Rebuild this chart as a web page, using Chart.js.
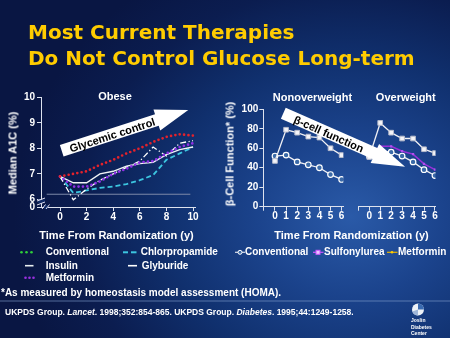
<!DOCTYPE html>
<html><head><meta charset="utf-8">
<script src="https://cdn.jsdelivr.net/npm/chart.js@4"></script>
<style>
html,body{margin:0;padding:0;}
body{width:450px;height:338px;overflow:hidden;position:relative;
 background: radial-gradient(ellipse 75% 85% at 78% 64%, #2a5aa8 0%, #1b438c 28%, #10306e 55%, #0b1d50 80%, #091643 100%);
 font-family:"Liberation Sans",Arial,sans-serif;color:#fff;}
canvas{position:absolute;left:0;top:0;}
.t{position:absolute;white-space:nowrap;font-weight:bold;line-height:1;color:#fff;}
.c{transform:translateX(-50%);}
.r{transform:translate(-50%,-50%) rotate(-90deg);}
svg{position:absolute;left:0;top:0;}
</style></head>
<body>
<canvas id="cA" width="450" height="338"></canvas>
<canvas id="cB" width="450" height="338"></canvas>
<canvas id="cC" width="450" height="338"></canvas>

<div class="t" style="left:28px;top:19.8px;font:bold 20px 'DejaVu Sans';color:#ffcc00;">Most Current Therapies</div>
<div class="t" style="left:28px;top:46.4px;font:bold 20px 'DejaVu Sans';color:#ffcc00;">Do Not Control Glucose Long-term</div>

<div class="t c" style="left:115px;top:91.2px;font-size:11px;">Obese</div>
<div class="t c" style="left:312.5px;top:91.8px;font-size:11px;">Nonoverweight</div>
<div class="t c" style="left:405.8px;top:91.8px;font-size:11px;">Overweight</div>
<div class="t r" style="left:13.3px;top:152.5px;font-size:11px;">Median A1C (%)</div>
<div class="t r" style="left:230px;top:154px;font-size:11px;">β-Cell Function* (%)</div>
<div class="t c" style="left:116.5px;top:229.5px;font-size:11px;">Time From Randomization (y)</div>
<div class="t c" style="left:351.5px;top:229.5px;font-size:11px;">Time From Randomization (y)</div>

<div class="t" style="left:45.7px;top:247.3px;font-size:10px;">Conventional</div>
<div class="t" style="left:140.7px;top:247.3px;font-size:10px;">Chlorpropamide</div>
<div class="t" style="left:45.7px;top:260.7px;font-size:10px;">Insulin</div>
<div class="t" style="left:141.7px;top:260.7px;font-size:10px;">Glyburide</div>
<div class="t" style="left:45.7px;top:272.7px;font-size:10px;">Metformin</div>
<div class="t" style="left:245px;top:247.3px;font-size:10px;">Conventional</div>
<div class="t" style="left:324px;top:247.3px;font-size:10px;">Sulfonylurea</div>
<div class="t" style="left:398px;top:247.3px;font-size:10px;">Metformin</div>

<div class="t" style="left:1px;top:288.3px;font-size:10px;">*As measured by homeostasis model assessment (HOMA).</div>
<div class="t" style="left:5px;top:307.5px;font-size:8.5px;">UKPDS Group. <i>Lancet</i>. 1998;352:854-865. UKPDS Group. <i>Diabetes</i>. 1995;44:1249-1258.</div>
<div class="t" style="left:411px;top:317px;font-size:5px;line-height:6.5px;">Joslin<br>Diabetes<br>Center</div>

<svg width="450" height="338" viewBox="0 0 450 338">
  <!-- axis breaks -->
  <rect x="38" y="199.5" width="7" height="3.5" fill="#0f2a66"/>
  <line x1="37" y1="201" x2="45" y2="198" stroke="#dde" stroke-width="1"/>
  <line x1="37" y1="205" x2="45" y2="202" stroke="#dde" stroke-width="1"/>
  <rect x="44" y="205" width="4" height="4" fill="#0f2a66"/>
  <line x1="42" y1="209" x2="45.5" y2="204.5" stroke="#dde" stroke-width="1"/>
  <line x1="46" y1="209" x2="49.5" y2="204.5" stroke="#dde" stroke-width="1"/>
  <!-- arrows -->
  <g transform="translate(61.7,150.8) rotate(-17.9)">
    <polygon points="0,-6 100,-6 100,-11 133,0 100,11 100,6 0,6" fill="#fff"/>
    <text x="53" y="0.5" text-anchor="middle" dominant-baseline="central" font-family="Liberation Sans" font-weight="bold" font-size="11" fill="#000">Glycemic control</text>
  </g>
  <g transform="translate(283.3,113.3) rotate(23.7)">
    <polygon points="0,-6 100,-6 100,-10.5 133,0 100,10.5 100,6 0,6" fill="#fff"/>
    <text x="50" y="0.5" text-anchor="middle" dominant-baseline="central" font-family="Liberation Sans" font-weight="bold" font-size="11" fill="#000">β-cell function</text>
  </g>
  <!-- legend swatches left -->
  <g fill="#2fcf3a"><circle cx="21.5" cy="252.3" r="1.3"/><circle cx="26.5" cy="252.3" r="1.3"/><circle cx="31.5" cy="252.3" r="1.3"/></g>
  <line x1="123" y1="252.3" x2="128" y2="252.3" stroke="#3cc6e0" stroke-width="2"/>
  <line x1="131" y1="252.3" x2="136.5" y2="252.3" stroke="#3cc6e0" stroke-width="2"/>
  <line x1="25" y1="265.7" x2="33.5" y2="265.7" stroke="#e8eef0" stroke-width="1.6"/>
  <line x1="128" y1="265.7" x2="137" y2="265.7" stroke="#ffffff" stroke-width="1.6"/>
  <g fill="#9a30e0"><circle cx="25.5" cy="277.7" r="1.3"/><circle cx="29.5" cy="277.7" r="1.3"/><circle cx="33.5" cy="277.7" r="1.3"/></g>
  <!-- legend swatches right -->
  <line x1="235" y1="252.3" x2="245" y2="252.3" stroke="#d8dde8" stroke-width="1.2"/>
  <circle cx="240" cy="252.3" r="2" fill="#3b6aa8" stroke="#fff" stroke-width="1"/>
  <line x1="313" y1="252.3" x2="323.5" y2="252.3" stroke="#cc55ff" stroke-width="1.2"/>
  <rect x="316" y="250.3" width="4" height="4" fill="#e8c8ff" stroke="#cc55ff" stroke-width="1"/>
  <line x1="387" y1="252.3" x2="397.5" y2="252.3" stroke="#e8b400" stroke-width="1.2"/>
  <circle cx="392" cy="252.3" r="1.3" fill="#ffcc00"/>
  <!-- separator -->
  <line x1="0" y1="301" x2="450" y2="301" stroke="#7f9ccc" stroke-width="0.8" opacity="0.8"/>
  <!-- logo -->
  <circle cx="418" cy="309.5" r="6" fill="#eef2f8"/>
  <path d="M418,303.5 A6,6 0 0,1 424,309.5 L418,309.5 Z" fill="#3a6ab0"/>
  <path d="M418,309.5 L418,315.5 A6,6 0 0,1 412.3,311.5 Z" fill="#9fb6d8"/>
</svg>

<script>
// ---------- Data: left panel (Obese, median A1C %) ----------
const years = [0, 1, 2, 3, 4, 5, 6, 7, 8, 9, 10];
const a1cConventional   = [6.9, 7.0, 7.1, 7.35, 7.55, 7.8, 8.0, 8.25, 8.45, 8.55, 8.5];
const a1cMetformin      = [6.9, 6.5, 6.5, 6.7, 7.0, 7.2, 7.45, 7.5, 7.8, 8.05, 8.2];
const a1cInsulin        = [6.9, 6.65, 6.65, 7.0, 7.1, 7.3, 7.4, 7.45, 7.75, 7.95, 8.05];
const a1cGlyburide      = [6.9, 5.98, 6.4, 6.75, 7.0, 7.25, 7.5, 8.05, 7.7, 8.2, 8.3];
const a1cChlorpropamide = [6.9, 6.25, 6.35, 6.45, 6.5, 6.6, 6.75, 6.95, 7.55, 7.8, 8.05];
const a1cRefYears = [-1, 9.8];
const a1cRefValue = [6.2, 6.2];
const a1cXTicks = [0, 2, 4, 6, 8, 10];
const a1cYTicks = [5.7, 6, 7, 8, 9, 10];
const a1cYTickLabels = ['0', '6', '7', '8', '9', '10'];

// ---------- Data: right panels (beta-cell function %) ----------
const betaYears = [0, 1, 2, 3, 4, 5, 6];
const betaNowConventional  = [52, 53, 46, 43, 40, 33, 28];
const betaNowSulfonylurea  = [47, 79, 76, 72, 71, 60, 53];
const betaOwSulfonylurea   = [51, 86, 76, 70, 70, 59, 55];
const betaOwMetformin      = [52, 62, 62, 57, 54, 44, 38];
const betaOwConventional   = [52, 57, 56, 52, 46, 38, 32];
const betaXTicks = [-1, 0, 1, 2, 3, 4, 5, 6];
const betaYTicks = [0, 20, 40, 60, 80, 100];

Chart.defaults.font.family = "'Liberation Sans', Arial, sans-serif";
Chart.defaults.font.weight = 'bold';
Chart.defaults.font.size = 10;
Chart.defaults.color = '#ffffff';

const pts = (xs, ys) => xs.map((x, i) => ({x: x, y: ys[i]}));
const axisCol = '#dde2ee';

function xScale(min, max, ticks, labelFn) {
  return {
    type: 'linear', min: min, max: max,
    afterBuildTicks: s => { s.ticks = ticks.map(v => ({value: v})); },
    afterFit: s => { s.height = 20; },
    ticks: {padding: 0, color: '#fff', font: {size: 10, weight: 'bold'}, callback: labelFn, maxRotation: 0, autoSkip: false},
    grid: {drawOnChartArea: false, drawTicks: true, tickLength: 4, color: axisCol},
    border: {display: true, color: axisCol, width: 1}
  };
}

// Left chart: Obese
new Chart(document.getElementById('cA'), {
  type: 'line',
  data: {datasets: [
    {label: 'Conventional', data: pts(years, a1cConventional), borderColor: '#e3222c', borderWidth: 2.7, borderDash: [0, 4.4], borderCapStyle: 'round'},
    {label: 'Metformin', data: pts(years, a1cMetformin), borderColor: '#8f2fe6', borderWidth: 2.7, borderDash: [0, 4.4], borderCapStyle: 'round'},
    {label: 'Insulin', data: pts(years, a1cInsulin), borderColor: '#f2f4f6', borderWidth: 1.4},
    {label: 'Glyburide', data: pts(years, a1cGlyburide), borderColor: '#ffffff', borderWidth: 1.3, borderDash: [6, 2.5, 1.2, 2.5]},
    {label: 'Chlorpropamide', data: pts(years, a1cChlorpropamide), borderColor: '#3cc6e0', borderWidth: 1.8, borderDash: [5, 3]},
    {label: 'ref', data: pts(a1cRefYears, a1cRefValue), borderColor: '#7d8aa8', borderWidth: 1}
  ]},
  options: {
    responsive: false, animation: false, events: [], devicePixelRatio: 1,
    elements: {point: {radius: 0}, line: {tension: 0}},
    layout: {padding: {left: 11, top: 97.3, right: 255, bottom: 111}},
    plugins: {legend: {display: false}, tooltip: {enabled: false}},
    scales: {
      x: xScale(-1.43, 10.15, a1cXTicks, v => String(v)),
      y: {
        type: 'linear', min: 5.7, max: 10,
        afterBuildTicks: s => { s.ticks = a1cYTicks.map(v => ({value: v})); },
        afterFit: s => { s.width = 30; },
        ticks: {padding: 2, color: '#fff', font: {size: 10, weight: 'bold'},
          callback: (v) => a1cYTickLabels[a1cYTicks.indexOf(v)]},
        grid: {drawOnChartArea: false, drawTicks: true, tickLength: 4, color: axisCol},
        border: {display: true, color: axisCol, width: 1}
      }
    }
  }
});

const circleStyle = {pointStyle: 'circle', pointRadius: 2.8, pointBackgroundColor: '#3b6aa8', pointBorderColor: '#ffffff', pointBorderWidth: 1.2};
const squareStyle = {pointStyle: 'rect', pointRadius: 3.3, pointBackgroundColor: '#f4f4f8', pointBorderColor: '#b8bccc', pointBorderWidth: 1};

function betaYScale(show) {
  return {
    type: 'linear', min: 0, max: 100, display: show,
    afterBuildTicks: s => { s.ticks = betaYTicks.map(v => ({value: v})); },
    afterFit: s => { s.width = show ? 25 : 0; },
    ticks: {padding: 1, color: '#fff', font: {size: 10, weight: 'bold'}},
    grid: {drawOnChartArea: false, drawTicks: true, tickLength: 4, color: axisCol},
    border: {display: true, color: axisCol, width: 1}
  };
}
const betaLabel = v => (v < 0 ? '' : String(v));

// Right chart 1: Nonoverweight
new Chart(document.getElementById('cB'), {
  type: 'line',
  data: {datasets: [
    Object.assign({label: 'Sulfonylurea', data: pts(betaYears, betaNowSulfonylurea), borderColor: '#f0f0f4', borderWidth: 1.3}, squareStyle),
    Object.assign({label: 'Conventional', data: pts(betaYears, betaNowConventional), borderColor: '#f0f0f4', borderWidth: 1.3}, circleStyle)
  ]},
  options: {
    responsive: false, animation: false, events: [], devicePixelRatio: 1,
    elements: {line: {tension: 0}},
    layout: {padding: {left: 238.3, top: 109.3, right: 106.7, bottom: 111.3}},
    plugins: {legend: {display: false}, tooltip: {enabled: false}},
    scales: {x: xScale(-1.05, 6.15, betaXTicks, betaLabel), y: betaYScale(true)}
  }
});

// Right chart 2: Overweight
new Chart(document.getElementById('cC'), {
  type: 'line',
  data: {datasets: [
    Object.assign({label: 'Sulfonylurea', data: pts(betaYears, betaOwSulfonylurea), borderColor: '#f0f0f4', borderWidth: 1.3}, squareStyle),
    {label: 'Metformin', data: pts(betaYears, betaOwMetformin), borderColor: '#9a30d8', borderWidth: 1.5,
      pointStyle: 'rect', pointRadius: 1.6, pointBackgroundColor: betaYears.map(y => y === 0 ? '#ffcc00' : '#b050f0'), pointBorderWidth: 0},
    Object.assign({label: 'Conventional', data: pts(betaYears, betaOwConventional), borderColor: '#f0f0f4', borderWidth: 1.3}, circleStyle)
  ]},
  options: {
    responsive: false, animation: false, events: [], devicePixelRatio: 1,
    elements: {line: {tension: 0}},
    layout: {padding: {left: 358.3, top: 109.3, right: 14.5, bottom: 111.3}},
    plugins: {legend: {display: false}, tooltip: {enabled: false}},
    scales: {x: xScale(-1.0, 6.05, betaXTicks, betaLabel), y: betaYScale(false)}
  }
});
</script>
</body></html>
